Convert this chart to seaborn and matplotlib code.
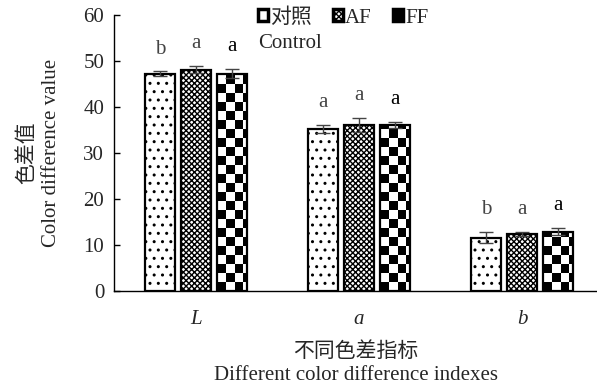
import numpy as np
import pandas as pd
import matplotlib
matplotlib.use('Agg')
import matplotlib.pyplot as plt
import seaborn as sns
from matplotlib.patches import Patch

# 데이터
indexes = ['L', 'a', 'b']
groups = ['对照', 'AF', 'FF']
means = {
    '对照': [47.2, 35.2, 11.6],
    'AF': [48.1, 36.0, 12.4],
    'FF': [47.2, 36.1, 12.9],
}
errors = {
    '对照': [0.5, 0.8, 1.2],
    'AF': [0.8, 1.5, 0.5],
    'FF': [1.0, 0.7, 0.8],
}
letters = {
    '对照': ['b', 'a', 'b'],
    'AF': ['a', 'a', 'a'],
    'FF': ['a', 'a', 'a'],
}

rows = []
for g in groups:
    for i, idx in enumerate(indexes):
        rows.append({'index': idx, 'group': g, 'value': means[g][i]})
df = pd.DataFrame(rows)

sns.set_style('white')
plt.rcParams['font.family'] = ['Liberation Serif', 'Noto Sans CJK SC']
plt.rcParams['hatch.linewidth'] = 1.0

fig = plt.figure(figsize=(5.97, 3.90), dpi=100)
ax = fig.add_axes([0.191, 0.254, 0.809, 0.708])

sns.barplot(data=df, x='index', y='value', hue='group', order=indexes,
            hue_order=groups, errorbar=None, width=0.663, gap=0.17,
            palette=['white', 'white', 'white'], edgecolor='black',
            linewidth=1.6, legend=False, ax=ax)

# 패턴과 오차막대
hatches = {'对照': '..', 'AF': 'xxxxxx'}
cw, ch = 0.054, 1.95
for gi, (g, cont) in enumerate(zip(groups, ax.containers)):
    for i, bar in enumerate(cont.patches):
        x0, w, h = bar.get_x(), bar.get_width(), bar.get_height()
        xc = x0 + w / 2
        if g in hatches:
            bar.set_hatch(hatches[g])
        else:
            bar.set_facecolor('none')
            nx = int(np.ceil(w / cw)) + 1
            ny = int(np.ceil(h / ch)) + 1
            board = (np.indices((ny, nx)).sum(axis=0) % 2).astype(float)
            im = ax.imshow(board, cmap='gray', origin='lower', aspect='auto',
                           interpolation='nearest',
                           extent=(x0, x0 + nx * cw, 0, ny * ch), zorder=0.5)
            im.set_clip_path(bar)
        ax.errorbar(xc, means[g][i], yerr=errors[g][i], fmt='none',
                    ecolor='#444444', elinewidth=1.0, capsize=5, capthick=1.0,
                    zorder=3)
        ax.text(xc, means[g][i] + errors[g][i] + 2.8, letters[g][i],
                ha='center', va='bottom', fontsize=15,
                color='black' if g == 'FF' else '#444444')

ax.set_xlim(-0.503, 2.46)
ax.set_ylim(0, 60)
ax.set_yticks(range(0, 61, 10))
ax.tick_params(axis='y', direction='in', length=4, width=1, labelsize=15,
               left=True, color='black', pad=7)
ax.tick_params(axis='x', length=0, labelsize=15, pad=14)
for lab in ax.get_xticklabels():
    lab.set_fontstyle('italic')
sns.despine(ax=ax)
for s in ['left', 'bottom']:
    ax.spines[s].set_color('black')
    ax.spines[s].set_linewidth(1.0)

ax.set_xlabel('不同色差指标\nDifferent color difference indexes', fontsize=15,
              labelpad=9, linespacing=1.3)
ax.set_ylabel('色差值\nColor difference value', fontsize=15, labelpad=16,
              linespacing=1.35)

handles = [Patch(facecolor='white', edgecolor='black', linewidth=2.5),
           Patch(facecolor='white', edgecolor='black', linewidth=2.5, hatch='xxxxxx'),
           Patch(facecolor='black', edgecolor='black', linewidth=2.5, hatch='++')]
ax.legend(handles, ['对照', 'AF', 'FF'], ncol=3, frameon=False,
          loc='upper left', bbox_to_anchor=(0.28, 1.055), fontsize=15,
          handlelength=0.5, handleheight=0.5, handletextpad=0.1,
          columnspacing=1.0, borderaxespad=0)
ax.text(0.298, 0.93, 'Control', transform=ax.transAxes, ha='left', va='top',
        fontsize=15)

plt.savefig('out.png', dpi=100)
